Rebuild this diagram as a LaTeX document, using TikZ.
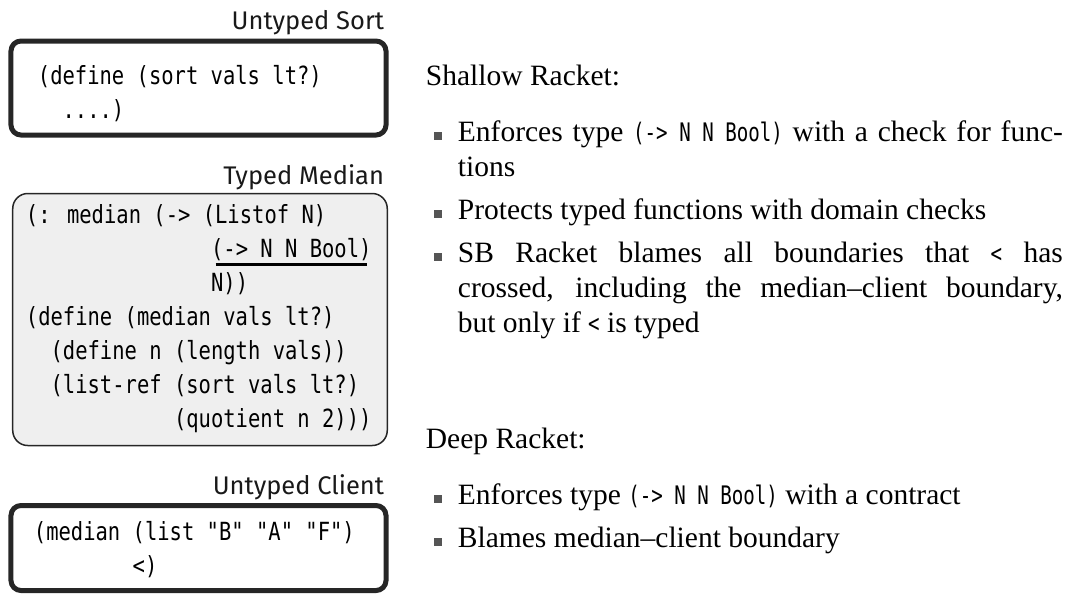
\documentclass[tikz,border=0pt]{standalone}
\usepackage{fontspec}
\setmainfont{Liberation Serif}
\newfontfamily\codefont[FakeStretch=0.82]{DejaVu Sans Mono}
\newfontfamily\inlinefont[FakeStretch=0.75]{DejaVu Sans Mono}
\newfontfamily\labelfont{Fira Sans}
\usetikzlibrary{positioning}

\definecolor{boxfill}{HTML}{EFEFEF}
\definecolor{bulletgray}{HTML}{555555}
\definecolor{edgedark}{HTML}{262626}

% indent by n characters of the current (mono) font
\newcommand\pad[1]{\hspace*{#1\fontcharwd\font`x}}
% thick underline under a piece of code
\newcommand\codeul[1]{\setbox0\hbox{#1}\rlap{\hspace{1.8pt}\raisebox{-3.2pt}{\rule{\dimexpr\wd0-3.6pt\relax}{1.2pt}}}\box0}
\newcommand\rcode[1]{{\inlinefont\fontsize{10.2}{14}\selectfont\spaceskip=\fontcharwd\font`x\relax #1}}
\newcommand\sqbullet{\textcolor{bulletgray}{\rule[0.8pt]{3.2pt}{3.2pt}}}
\newenvironment{racketlist}{\begin{list}{\sqbullet}{%
  \setlength\leftmargin{9.6pt}\setlength\labelwidth{3.2pt}%
  \setlength\labelsep{6.4pt}\setlength\itemsep{3.2pt}%
  \setlength\topsep{0pt}\setlength\parsep{0pt}\setlength\partopsep{0pt}}}{\end{list}}

\tikzset{every picture/.style={line width=0.75pt}}

\begin{document}
\begin{tikzpicture}[x=0.4pt,y=0.4pt,yscale=-1,xscale=1,
  untypedbox/.style={draw=edgedark, line width=2pt, rounded corners=4pt, minimum width=150pt, inner sep=0pt},
  typedbox/.style={draw=edgedark, line width=0.6pt, rounded corners=6pt, fill=boxfill, minimum width=149.8pt, inner sep=0pt},
  code/.style={font=\codefont\fontsize{10}{13.6}\selectfont, align=left, inner sep=0pt},
  boxlabel/.style={font=\labelfont\fontsize{10.2}{12}\selectfont, text=black!90, inner sep=0pt},
  heading/.style={font=\fontsize{11.8}{14}\selectfont, inner sep=0pt},
  listtext/.style={font=\fontsize{11.8}{14}\selectfont, text width=251.6pt, align=justify, inner sep=0pt}]
\useasboundingbox (0,0) rectangle (1069,596);

%Shape: Rectangle (untyped sort)
\node [untypedbox, minimum height=37.6pt] (sortbox) at (198.5,88) {};
%Shape: Rectangle (typed median)
\node [typedbox, minimum height=100.8pt] (medianbox) at (200,319.5) {};
%Shape: Rectangle (untyped client)
\node [untypedbox, minimum height=34pt] (clientbox) at (198.5,548) {};

% Text Node
\node [boxlabel, anchor=south east] (sortlabel) at (385,36) {Untyped Sort};
% Text Node
\node [boxlabel, anchor=south east] (medianlabel) at (385,191) {Typed Median};
% Text Node
\node [boxlabel, anchor=south east] (clientlabel) at (385,501) {Untyped Client};

% Text Node
\node [code, anchor=west] (sortcode) at (37,94) {(define (sort vals lt?)\\\pad{2}....)};
% Text Node
\node [code, anchor=west] (mediancode) at (25,319) {(: median (-> (Listof N)\\
\pad{15}\codeul{(-> N N Bool)}\\
\pad{15}N))\\
(define (median vals lt?)\\
\pad{2}(define n (length vals))\\
\pad{2}(list-ref (sort vals lt?)\\
\pad{12}(quotient n 2)))};
% Text Node
\node [code, anchor=west] (clientcode) at (33,550) {(median (list "B" "A" "F")\\\pad{8}<)};

% Text Node
\node [heading, anchor=base west] (shallowhead) at (425,85) {Shallow Racket:};
% Text Node
\node [listtext, anchor=north west] (shallowlist) at (433,106) {\begin{racketlist}
\item Enforces type \rcode{(-> N N Bool)} with a check for func-\linebreak tions
\item Protects typed functions with domain checks
\item SB Racket blames all boundaries that \rcode{<} has\linebreak crossed, including the median--client boundary,\linebreak but only if \rcode{<} is typed
\end{racketlist}};

% Text Node
\node [heading, anchor=base west] (deephead) at (425,448) {Deep Racket:};
% Text Node
\node [listtext, anchor=north west] (deeplist) at (433,469) {\begin{racketlist}
\item Enforces type \rcode{(-> N N Bool)} with a contract
\item Blames median--client boundary
\end{racketlist}};

\end{tikzpicture}
\end{document}
